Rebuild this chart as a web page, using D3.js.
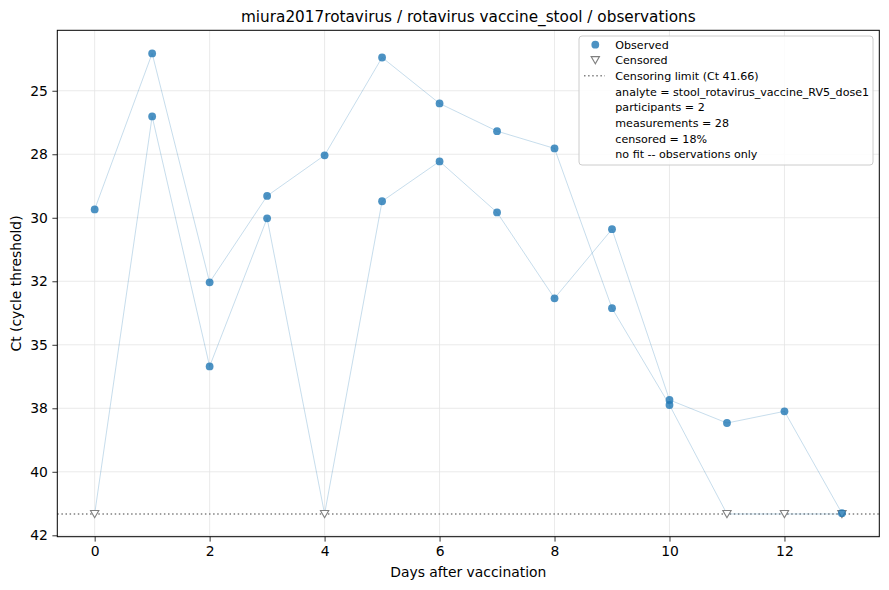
<!DOCTYPE html>
<html>
<head>
<meta charset="utf-8">
<script src="https://cdn.jsdelivr.net/npm/d3@7"></script>
<style>
  body { margin: 0; background: #fff; }
  text { font-family: "DejaVu Sans", sans-serif; }
</style>
</head>
<body>
<div id="chart"></div>
<script>
// data (Ct values, null = censored)
var days = [0, 1, 2, 3, 4, 5, 6, 7, 8, 9, 10, 11, 12, 13];
var participantA = [29.67, 23.53, 32.54, 29.14, 27.54, 23.69, 25.50, 26.59, 27.27, 33.56, 37.37, null, null, null];
var participantB = [null, 26.01, 35.85, 30.02, null, 29.35, 27.78, 29.79, 33.17, 30.45, 37.17, 38.08, 37.62, 41.63];
var censorLimit = 41.66;

var xTicks = [0, 2, 4, 6, 8, 10, 12];
var yTicks = [25, 27.5, 30, 32.5, 35, 37.5, 40, 42.5];
var yTickLabels = ["25", "28", "30", "32", "35", "38", "40", "42"];

var legendLines = [
  "analyte = stool_rotavirus_vaccine_RV5_dose1",
  "participants = 2",
  "measurements = 28",
  "censored = 18%",
  "no fit -- observations only"
];

var svgWidth = 889;
var svgHeight = 590;

var margin = {
  top: 30.3,
  right: 9.7,
  bottom: 53.3,
  left: 57.3
};

var plotWidth = svgWidth - margin.left - margin.right;
var plotHeight = svgHeight - margin.top - margin.bottom;

var svg = d3.select("#chart")
  .append("svg")
  .attr("width", svgWidth)
  .attr("height", svgHeight);

var plot = svg.append("g")
  .attr("transform", `translate(${margin.left}, ${margin.top})`);

var xScale = d3.scaleLinear()
  .domain([-0.65, 13.65])
  .range([0, plotWidth]);

// inverted: low Ct at the top
var yScale = d3.scaleLinear()
  .domain([22.62, 42.555])
  .range([0, plotHeight]);

// grid
plot.append("g")
  .selectAll("line")
  .data(xTicks)
  .enter()
  .append("line")
  .attr("x1", d => xScale(d))
  .attr("x2", d => xScale(d))
  .attr("y1", 0)
  .attr("y2", plotHeight)
  .attr("stroke", "#e4e4e4")
  .attr("stroke-width", 0.8);

plot.append("g")
  .selectAll("line")
  .data(yTicks)
  .enter()
  .append("line")
  .attr("x1", 0)
  .attr("x2", plotWidth)
  .attr("y1", d => yScale(d))
  .attr("y2", d => yScale(d))
  .attr("stroke", "#e4e4e4")
  .attr("stroke-width", 0.8);

// censoring limit
plot.append("line")
  .attr("x1", 0)
  .attr("x2", plotWidth)
  .attr("y1", yScale(censorLimit))
  .attr("y2", yScale(censorLimit))
  .attr("stroke", "#808080")
  .attr("stroke-width", 1.5)
  .attr("stroke-dasharray", "1.5,2.6");

var participants = [participantA, participantB];

function toPoints(series) {
  return series.map(function(v, i) {
    return { day: days[i], ct: v === null ? censorLimit : v, censored: v === null };
  });
}

var line = d3.line()
  .x(d => xScale(d.day))
  .y(d => yScale(d.ct));

participants.forEach(function(series) {
  var pts = toPoints(series);

  plot.append("path")
    .datum(pts)
    .attr("d", line)
    .attr("fill", "none")
    .attr("stroke", "#1f77b4")
    .attr("stroke-opacity", 0.25)
    .attr("stroke-width", 1);
});

var tri = d3.symbol().type(d3.symbolTriangle).size(30);

participants.forEach(function(series) {
  var pts = toPoints(series);

  plot.append("g")
    .selectAll("path")
    .data(pts.filter(d => d.censored))
    .enter()
    .append("path")
    .attr("d", tri)
    .attr("transform", d => `translate(${xScale(d.day)}, ${yScale(d.ct) - 1}) rotate(180)`)
    .attr("fill", "#fff")
    .attr("stroke", "#7f7f7f")
    .attr("stroke-width", 1.1);

  plot.append("g")
    .selectAll("circle")
    .data(pts.filter(d => !d.censored))
    .enter()
    .append("circle")
    .attr("cx", d => xScale(d.day))
    .attr("cy", d => yScale(d.ct))
    .attr("r", 3.9)
    .attr("fill", "#1f77b4")
    .attr("fill-opacity", 0.8);
});

// axes
var xAxis = d3.axisBottom(xScale).tickValues(xTicks).tickSize(4.9).tickPadding(4.5);
var yAxis = d3.axisLeft(yScale).tickValues(yTicks)
  .tickFormat((d, i) => yTickLabels[i]).tickSize(4.9).tickPadding(4.5);

var gx = plot.append("g")
  .attr("transform", `translate(0, ${plotHeight})`)
  .call(xAxis);
var gy = plot.append("g").call(yAxis);

[gx, gy].forEach(function(g) {
  g.select(".domain").remove();
  g.selectAll("line").attr("stroke", "#000").attr("stroke-width", 0.8);
  g.selectAll("text")
    .attr("fill", "#000")
    .attr("font-size", "13.9px")
    .attr("font-family", "DejaVu Sans");
});

// frame
plot.append("rect")
  .attr("width", plotWidth)
  .attr("height", plotHeight)
  .attr("fill", "none")
  .attr("stroke", "#000")
  .attr("stroke-width", 1);

// labels
svg.append("text")
  .attr("x", margin.left + plotWidth / 2)
  .attr("y", 22.3)
  .attr("text-anchor", "middle")
  .attr("font-size", "15.28px")
  .attr("fill", "#000")
  .text("miura2017rotavirus / rotavirus vaccine_stool / observations");

svg.append("text")
  .attr("x", margin.left + plotWidth / 2)
  .attr("y", 577)
  .attr("text-anchor", "middle")
  .attr("font-size", "13.9px")
  .attr("fill", "#000")
  .text("Days after vaccination");

svg.append("text")
  .attr("transform", `translate(21, ${margin.top + plotHeight / 2}) rotate(-90)`)
  .attr("text-anchor", "middle")
  .attr("font-size", "13.9px")
  .attr("fill", "#000")
  .text("Ct (cycle threshold)");

// legend
var legend = svg.append("g").attr("transform", "translate(579, 36)");

legend.append("rect")
  .attr("width", 294)
  .attr("height", 129)
  .attr("rx", 3)
  .attr("fill", "#fff")
  .attr("fill-opacity", 0.85)
  .attr("stroke", "#cccccc")
  .attr("stroke-width", 1);

var rowY = [8.7, 24, 39.7, 56.3, 71.3, 87.3, 103.3, 118];

legend.append("circle")
  .attr("cx", 16.3)
  .attr("cy", rowY[0])
  .attr("r", 3.9)
  .attr("fill", "#1f77b4")
  .attr("fill-opacity", 0.8);

legend.append("path")
  .attr("d", tri)
  .attr("transform", `translate(16.3, ${rowY[1] - 1}) rotate(180)`)
  .attr("fill", "#fff")
  .attr("stroke", "#7f7f7f")
  .attr("stroke-width", 1.1);

legend.append("line")
  .attr("x1", 5)
  .attr("x2", 26)
  .attr("y1", rowY[2])
  .attr("y2", rowY[2])
  .attr("stroke", "#808080")
  .attr("stroke-width", 1.5)
  .attr("stroke-dasharray", "1.5,2.6");

var legendText = ["Observed", "Censored", "Censoring limit (Ct " + censorLimit + ")"].concat(legendLines);

legend.selectAll("text.entry")
  .data(legendText)
  .enter()
  .append("text")
  .attr("class", "entry")
  .attr("x", 36.3)
  .attr("y", (d, i) => rowY[i])
  .attr("dy", "0.35em")
  .attr("font-size", "11.1px")
  .attr("fill", "#000")
  .text(d => d);
</script>
</body>
</html>
